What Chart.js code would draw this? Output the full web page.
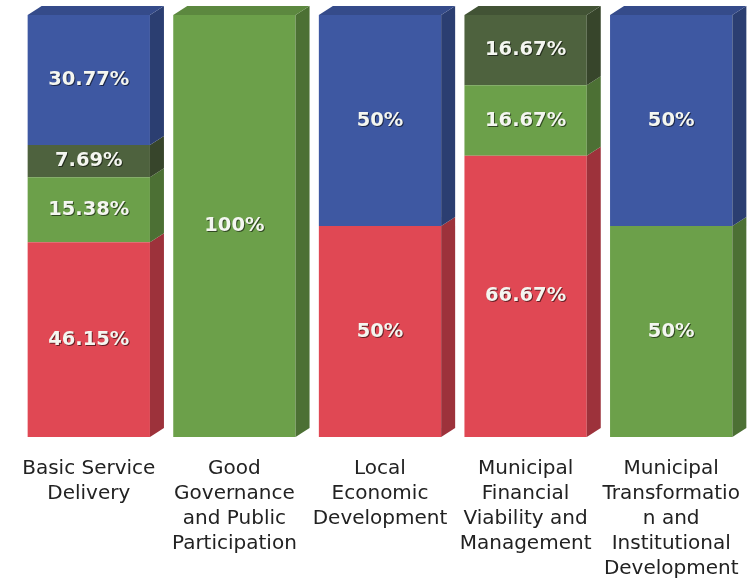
<!DOCTYPE html>
<html>
<head>
    <title></title>
    <script src="https://cdn.jsdelivr.net/npm/chart.js"></script>
    <style>
        body { margin: 0; background: #fff; }
        .chart-container { width: 754px; height: 588px; }
    </style>
</head>
<body>
    <div class="chart-container">
        <canvas id="kpaChart"></canvas>
    </div>

    <script>
        // categories (multi-line tick labels)
        const labels = [
            ['Basic Service', 'Delivery'],
            ['Good', 'Governance', 'and Public', 'Participation'],
            ['Local', 'Economic', 'Development'],
            ['Municipal', 'Financial', 'Viability and', 'Management'],
            ['Municipal', 'Transformatio', 'n and', 'Institutional', 'Development']
        ];

        // stacked shares, bottom to top (%)
        const redData      = [46.15, 0,   50, 66.67, 0];
        const greenData    = [15.38, 100, 0,  16.67, 50];
        const darkData     = [7.69,  0,   0,  16.67, 0];
        const blueData     = [30.77, 0,   50, 0,     50];

        const colors = {
            red:   [224, 72, 84],
            green: [108, 160, 74],
            dark:  [78, 98, 62],
            blue:  [62, 88, 162]
        };
        const rgb = (c, k) => 'rgb(' + c.map(v => Math.round(Math.min(255, v * k))).join(',') + ')';

        const DX = 14, DY = 9;

        // fake 3D faces + value labels
        const boxPlugin = {
            id: 'box3d',
            afterDatasetsDraw(chart) {
                const ctx = chart.ctx;
                const tops = {};
                chart.data.datasets.forEach((ds, di) => {
                    chart.getDatasetMeta(di).data.forEach((bar, i) => {
                        if (!ds.data[i]) return;
                        const p = bar.getProps(['x', 'y', 'base', 'width'], true);
                        const l = p.x - p.width / 2, r = p.x + p.width / 2;
                        ctx.save();
                        ctx.fillStyle = rgb(ds.rgbBase, 0.7);
                        ctx.beginPath();
                        ctx.moveTo(r, p.base);
                        ctx.lineTo(r + DX, p.base - DY);
                        ctx.lineTo(r + DX, p.y - DY);
                        ctx.lineTo(r, p.y);
                        ctx.closePath();
                        ctx.fill();
                        ctx.restore();
                        tops[i] = { l, r, y: p.y, c: ds.rgbBase };
                    });
                });
                Object.values(tops).forEach(t => {
                    ctx.save();
                    ctx.fillStyle = rgb(t.c, 0.85);
                    ctx.beginPath();
                    ctx.moveTo(t.l, t.y);
                    ctx.lineTo(t.l + DX, t.y - DY);
                    ctx.lineTo(t.r + DX, t.y - DY);
                    ctx.lineTo(t.r, t.y);
                    ctx.closePath();
                    ctx.fill();
                    ctx.restore();
                });
                chart.data.datasets.forEach((ds, di) => {
                    chart.getDatasetMeta(di).data.forEach((bar, i) => {
                        const v = ds.data[i];
                        if (!v) return;
                        const p = bar.getProps(['x', 'y', 'base'], true);
                        const txt = (Number.isInteger(v) ? v : v.toFixed(2)) + '%';
                        ctx.save();
                        ctx.font = 'bold 19.5px "DejaVu Sans"';
                        ctx.textAlign = 'center';
                        ctx.textBaseline = 'middle';
                        ctx.fillStyle = 'rgba(0,0,0,0.55)';
                        ctx.fillText(txt, p.x + 1, (p.y + p.base) / 2 + 1);
                        ctx.fillStyle = '#f4f6f0';
                        ctx.fillText(txt, p.x, (p.y + p.base) / 2);
                        ctx.restore();
                    });
                });
            }
        };

        const mk = (label, data, c) => ({
            label: label,
            data: data,
            rgbBase: c,
            backgroundColor: rgb(c, 1),
            borderWidth: 0,
            barPercentage: 0.84,
            categoryPercentage: 1
        });

        new Chart(document.getElementById('kpaChart'), {
            type: 'bar',
            data: {
                labels: labels,
                datasets: [
                    mk('Red', redData, colors.red),
                    mk('Green', greenData, colors.green),
                    mk('Dark green', darkData, colors.dark),
                    mk('Blue', blueData, colors.blue)
                ]
            },
            options: {
                responsive: true,
                maintainAspectRatio: false,
                animation: false,
                layout: { padding: { top: 15, left: 16, right: 10, bottom: 0 } },
                plugins: {
                    legend: { display: false },
                    tooltip: { enabled: false }
                },
                scales: {
                    x: {
                        stacked: true,
                        grid: { display: false },
                        border: { display: false },
                        afterFit(axis) { axis.height = 151; },
                        ticks: {
                            color: '#222',
                            padding: 11,
                            maxRotation: 0,
                            autoSkip: false,
                            font: { family: 'DejaVu Sans', size: 20, lineHeight: 1.25 }
                        }
                    },
                    y: {
                        stacked: true,
                        display: false,
                        min: 0,
                        max: 100
                    }
                }
            },
            plugins: [boxPlugin]
        });
    </script>
</body>
</html>
